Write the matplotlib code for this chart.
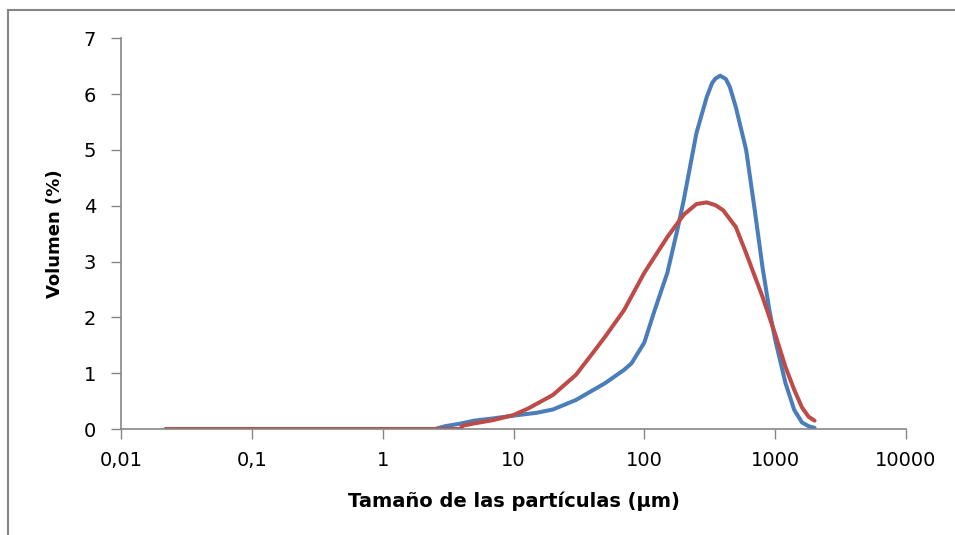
import matplotlib.pyplot as plt
from matplotlib.lines import Line2D
from matplotlib.ticker import FixedLocator, NullLocator

plt.rcParams['font.family'] = ['DejaVu Sans']

# datos: tamaño (um) y volumen (%)
size_blue = [0.022, 2.5, 3, 4, 5, 7, 10, 15, 20, 30, 50, 70, 80, 100, 120, 150, 180, 200,
             250, 300, 330, 350, 380, 420, 450, 500, 600, 700, 800, 900, 1000, 1200, 1400, 1600, 1800, 2000]
vol_blue = [0, 0, 0.05, 0.10, 0.15, 0.19, 0.24, 0.29, 0.35, 0.52, 0.82, 1.06, 1.18, 1.55, 2.13, 2.8, 3.6, 4.1,
            5.3, 5.95, 6.2, 6.28, 6.33, 6.27, 6.13, 5.77, 5.0, 3.9, 2.9, 2.15, 1.6, 0.82, 0.34, 0.12, 0.05, 0.02]

size_red = [0.022, 3.9, 4.1, 5, 7, 10, 13, 20, 30, 40, 50, 70, 100, 150, 200, 250, 300, 350, 400,
            500, 600, 700, 800, 1000, 1200, 1400, 1600, 1800, 2000]
vol_red = [0, 0, 0.06, 0.10, 0.16, 0.25, 0.37, 0.61, 0.97, 1.35, 1.65, 2.13, 2.8, 3.44, 3.84, 4.03, 4.06, 4.01, 3.92,
           3.62, 3.15, 2.73, 2.37, 1.7, 1.11, 0.70, 0.39, 0.22, 0.15]

xticks = [0.01, 0.1, 1, 10, 100, 1000, 10000]
xtick_labels = ['0,01', '0,1', '1', '10', '100', '1000', '10000']
yticks = [0, 1, 2, 3, 4, 5, 6, 7]

gris = '#868686'

fig = plt.figure(figsize=(9.55, 5.35), dpi=100)
ax = fig.add_axes([0.1267, 0.1981, 0.822, 0.7303])

ax.plot(size_blue, vol_blue, color='#4A7EBB', lw=2.9, solid_capstyle='round')
ax.plot(size_red, vol_red, color='#BE4B48', lw=2.9, solid_capstyle='round')

ax.set_xscale('log')
ax.set_xlim(0.01, 10000)
ax.set_ylim(0, 7)
ax.xaxis.set_major_locator(FixedLocator(xticks))
ax.xaxis.set_minor_locator(NullLocator())
ax.set_xticklabels(xtick_labels)
ax.set_yticks(yticks)

for s in ['top', 'right']:
    ax.spines[s].set_visible(False)
for s in ['left', 'bottom']:
    ax.spines[s].set_color(gris)
    ax.spines[s].set_linewidth(1.2)

ax.tick_params(axis='both', direction='out', length=7, width=1, color=gris,
               labelsize=14, pad=9)
ax.tick_params(axis='y', pad=11)

ax.set_xlabel('Tamaño de las partículas (µm)', fontsize=14, fontweight='bold', labelpad=15)
ax.set_ylabel('Volumen (%)', fontsize=13, fontweight='bold', labelpad=14)

# marco del grafico (solo lados izquierdo y superior visibles)
fig.add_artist(Line2D([8 / 955, 8 / 955], [0, 1 - 10 / 535], color=gris, lw=1.5))
fig.add_artist(Line2D([8 / 955, 1], [1 - 10 / 535, 1 - 10 / 535], color=gris, lw=1.5))

fig.savefig('out.png', dpi=100)
